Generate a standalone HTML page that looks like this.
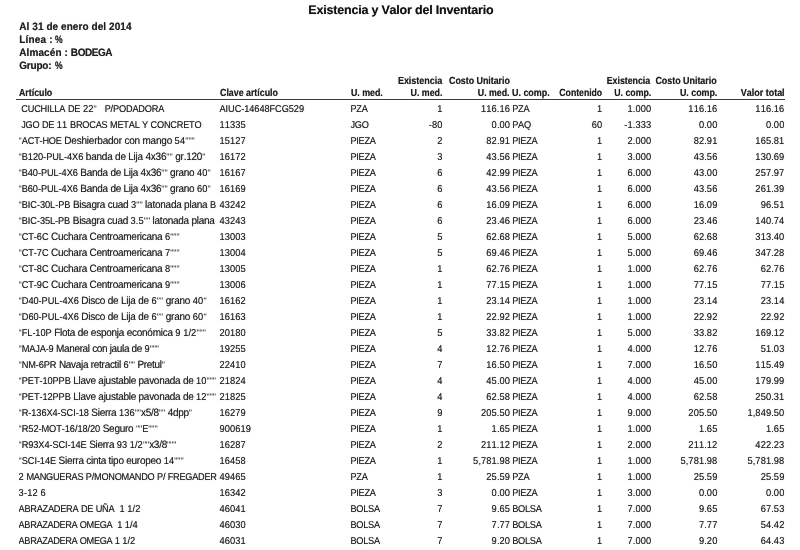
<!DOCTYPE html>
<html lang="es">
<head>
<meta charset="utf-8">
<title>Existencia y Valor del Inventario</title>
<style>
html,body{margin:0;padding:0;background:#fff;overflow:hidden;}
body{width:800px;height:550px;overflow:hidden;position:relative;font-family:"Liberation Sans",Arial,Helvetica,sans-serif;color:#1f1f1f;text-rendering:geometricPrecision;font-kerning:none;font-variant-ligatures:none;}
.t{position:absolute;white-space:pre;line-height:1;text-shadow:0 0 0.7px rgba(0,0,0,0.55);}
.b{font-weight:bold;}
.r{text-align:right;}
.h.r{transform-origin:100% 8.1px;}
#title{color:#111;font-size:12.5px;top:4px;left:0;width:801.8px;text-align:center;letter-spacing:-0.2px;word-spacing:0px;}
.sub{font-size:10px;left:19.28px;transform:scaleY(1.08);transform-origin:0 8.5px;}
.h{transform-origin:0 8.1px;font-size:9.6px;font-weight:bold;letter-spacing:-0.03px;word-spacing:0px;}
.d{transform:scaleY(1.07);transform-origin:0 11.5px;font-size:10px;line-height:16px;letter-spacing:calc(var(--a,0px) + -0.251px);}
.n{font-size:9.3px;letter-spacing:calc(var(--a,0px) + 0.1px);}
.q{font-size:9.0px;letter-spacing:calc(var(--a,0px) + -0.05px);color:#2a2a2a;text-shadow:none;}
.u{font-size:9.2px;letter-spacing:calc(var(--a,0px) + -0.249px);}
.x{font-size:9.25px;letter-spacing:calc(var(--a,0px) + -0.088px);}
.art{left:18.6px;width:199px;overflow:hidden;}
#rule{position:absolute;left:16px;width:768.5px;top:99px;height:1px;background:#3a3a3a;}
</style>
</head>
<body>
<div id="title" class="t b">Existencia y Valor del Inventario</div>
<div id="s1" class="t b sub" style="top:23px"><span id="s1l" style="letter-spacing:0.072px">Al 31 de enero del 2014</span></div>
<div id="s2" class="t b sub" style="top:36px"><span id="s2l" style="letter-spacing:0.2px">Línea : </span><span id="s2v" style="letter-spacing:0px;display:inline-block;transform:scaleX(0.86);transform-origin:0 50%;margin-left:-0.7px">%</span></div>
<div id="s3" class="t b sub" style="top:49px"><span id="s3l" style="letter-spacing:0.1px">Almacén : </span><span id="s3v" style="letter-spacing:-0.44px">BODEGA</span></div>
<div id="s4" class="t b sub" style="top:62px"><span id="s4l" style="letter-spacing:-0.2px">Grupo: </span><span id="s4v" style="letter-spacing:0px;display:inline-block;transform:scaleX(0.86);transform-origin:0 50%;margin-left:0.6px">%</span></div>
<div id="h_art" class="t h" style="left:18.84px;top:89px;transform:scale(0.9226,1.07)">Artículo</div>
<div id="h_clave" class="t h" style="left:219.55px;top:89px;transform:scale(0.9262,1.07)">Clave artículo</div>
<div id="h_umed" class="t h" style="left:350.84px;top:89px;transform:scale(0.9227,1.07)">U. med.</div>
<div id="h_ex1" class="t h r" style="right:358.08px;top:77px;transform:scale(0.9385,1.07)">Existencia</div>
<div id="h_ex2" class="t h r" style="right:357.85px;top:89px;transform:scale(0.9269,1.07)">U. med.</div>
<div id="h_cu1" class="t h" style="left:448.87px;top:77px;transform:scale(0.9266,1.07)">Costo Unitario</div>
<div id="h_cu2" class="t h r" style="right:290.72px;top:89px;transform:scale(0.917,1.07)">U. med.</div>
<div id="h_uc" class="t h" style="left:511.8px;top:89px;transform:scale(0.936,1.07)">U. comp.</div>
<div id="h_cont" class="t h r" style="right:198.11px;top:89px;transform:scale(0.9075,1.07)">Contenido</div>
<div id="h_exc1" class="t h r" style="right:150.26px;top:77px;transform:scale(0.9211,1.07)">Existencia</div>
<div id="h_exc2" class="t h r" style="right:148.82px;top:89px;transform:scale(0.9184,1.07)">U. comp.</div>
<div id="h_cuc1" class="t h r" style="right:83.76px;top:77px;transform:scale(0.9325,1.07)">Costo Unitario</div>
<div id="h_cuc2" class="t h r" style="right:83.11px;top:89px;transform:scale(0.9264,1.07)">U. comp.</div>
<div id="h_vt" class="t h r" style="right:15.54px;top:89px;transform:scale(0.9389,1.07)">Valor total</div>
<div id="rule"></div>
<div class="t d art" style="top:101px;--a:0.076px"> <span class="u">CUCHILLA</span> <span class="u">DE</span> <span class="n">22</span><span class="q">"</span>   <span class="u">P/PODADORA</span></div><div class="t d" style="left:219.5px;top:101px"><span class="x">AIUC-14648FCG529</span></div><div class="t d" style="left:350.4px;top:101px"><span class="u">PZA</span></div><div class="t d r" style="right:357.5px;top:101px"><span class="n">1</span></div><div class="t d r" style="right:289.9px;top:101px"><span class="n">116.16</span></div><div class="t d" style="left:512.2px;top:101px"><span class="u">PZA</span></div><div class="t d r" style="right:197.8px;top:101px"><span class="n">1</span></div><div class="t d r" style="right:148.7px;top:101px"><span class="n">1.000</span></div><div class="t d r" style="right:82.6px;top:101px"><span class="n">116.16</span></div><div class="t d r" style="right:15.6px;top:101px"><span class="n">116.16</span></div>
<div class="t d art" style="top:117px;--a:0.025px"> <span class="u">JGO</span> <span class="u">DE</span> <span class="n">11</span> <span class="u">BROCAS</span> <span class="u">METAL</span> <span class="u">Y</span> <span class="u">CONCRETO</span></div><div class="t d" style="left:219.5px;top:117px"><span class="n">11335</span></div><div class="t d" style="left:350.4px;top:117px"><span class="u">JGO</span></div><div class="t d r" style="right:357.5px;top:117px"><span class="n">-80</span></div><div class="t d r" style="right:289.9px;top:117px"><span class="n">0.00</span></div><div class="t d" style="left:512.2px;top:117px"><span class="u">PAQ</span></div><div class="t d r" style="right:197.8px;top:117px"><span class="n">60</span></div><div class="t d r" style="right:148.7px;top:117px"><span class="n">-1.333</span></div><div class="t d r" style="right:82.6px;top:117px"><span class="n">0.00</span></div><div class="t d r" style="right:15.6px;top:117px"><span class="n">0.00</span></div>
<div class="t d art" style="top:133px;--a:0.043px"><span class="q">"</span><span class="u">ACT-HOE</span> Deshierbador con mango <span class="n">54</span><span class="q">"""</span></div><div class="t d" style="left:219.5px;top:133px"><span class="n">15127</span></div><div class="t d" style="left:350.4px;top:133px"><span class="u">PIEZA</span></div><div class="t d r" style="right:357.5px;top:133px"><span class="n">2</span></div><div class="t d r" style="right:289.9px;top:133px"><span class="n">82.91</span></div><div class="t d" style="left:512.2px;top:133px"><span class="u">PIEZA</span></div><div class="t d r" style="right:197.8px;top:133px"><span class="n">1</span></div><div class="t d r" style="right:148.7px;top:133px"><span class="n">2.000</span></div><div class="t d r" style="right:82.6px;top:133px"><span class="n">82.91</span></div><div class="t d r" style="right:15.6px;top:133px"><span class="n">165.81</span></div>
<div class="t d art" style="top:149px;--a:0.027px"><span class="q">"</span><span class="x">B120-PUL-4X6</span> banda de Lija 4x36<span class="q">""</span> gr.120<span class="q">"</span></div><div class="t d" style="left:219.5px;top:149px"><span class="n">16172</span></div><div class="t d" style="left:350.4px;top:149px"><span class="u">PIEZA</span></div><div class="t d r" style="right:357.5px;top:149px"><span class="n">3</span></div><div class="t d r" style="right:289.9px;top:149px"><span class="n">43.56</span></div><div class="t d" style="left:512.2px;top:149px"><span class="u">PIEZA</span></div><div class="t d r" style="right:197.8px;top:149px"><span class="n">1</span></div><div class="t d r" style="right:148.7px;top:149px"><span class="n">3.000</span></div><div class="t d r" style="right:82.6px;top:149px"><span class="n">43.56</span></div><div class="t d r" style="right:15.6px;top:149px"><span class="n">130.69</span></div>
<div class="t d art" style="top:165px;--a:-0.007px"><span class="q">"</span><span class="x">B40-PUL-4X6</span> Banda de Lija 4x36<span class="q">""</span> grano <span class="n">40</span><span class="q">"</span></div><div class="t d" style="left:219.5px;top:165px"><span class="n">16167</span></div><div class="t d" style="left:350.4px;top:165px"><span class="u">PIEZA</span></div><div class="t d r" style="right:357.5px;top:165px"><span class="n">6</span></div><div class="t d r" style="right:289.9px;top:165px"><span class="n">42.99</span></div><div class="t d" style="left:512.2px;top:165px"><span class="u">PIEZA</span></div><div class="t d r" style="right:197.8px;top:165px"><span class="n">1</span></div><div class="t d r" style="right:148.7px;top:165px"><span class="n">6.000</span></div><div class="t d r" style="right:82.6px;top:165px"><span class="n">43.00</span></div><div class="t d r" style="right:15.6px;top:165px"><span class="n">257.97</span></div>
<div class="t d art" style="top:181px;--a:-0.007px"><span class="q">"</span><span class="x">B60-PUL-4X6</span> Banda de Lija 4x36<span class="q">""</span> grano <span class="n">60</span><span class="q">"</span></div><div class="t d" style="left:219.5px;top:181px"><span class="n">16169</span></div><div class="t d" style="left:350.4px;top:181px"><span class="u">PIEZA</span></div><div class="t d r" style="right:357.5px;top:181px"><span class="n">6</span></div><div class="t d r" style="right:289.9px;top:181px"><span class="n">43.56</span></div><div class="t d" style="left:512.2px;top:181px"><span class="u">PIEZA</span></div><div class="t d r" style="right:197.8px;top:181px"><span class="n">1</span></div><div class="t d r" style="right:148.7px;top:181px"><span class="n">6.000</span></div><div class="t d r" style="right:82.6px;top:181px"><span class="n">43.56</span></div><div class="t d r" style="right:15.6px;top:181px"><span class="n">261.39</span></div>
<div class="t d art" style="top:197px;--a:0.012px"><span class="q">"</span><span class="x">BIC-30L-PB</span> Bisagra cuad <span class="n">3</span><span class="q">""</span> latonada plana <span class="u">B</span></div><div class="t d" style="left:219.5px;top:197px"><span class="n">43242</span></div><div class="t d" style="left:350.4px;top:197px"><span class="u">PIEZA</span></div><div class="t d r" style="right:357.5px;top:197px"><span class="n">6</span></div><div class="t d r" style="right:289.9px;top:197px"><span class="n">16.09</span></div><div class="t d" style="left:512.2px;top:197px"><span class="u">PIEZA</span></div><div class="t d r" style="right:197.8px;top:197px"><span class="n">1</span></div><div class="t d r" style="right:148.7px;top:197px"><span class="n">6.000</span></div><div class="t d r" style="right:82.6px;top:197px"><span class="n">16.09</span></div><div class="t d r" style="right:15.6px;top:197px"><span class="n">96.51</span></div>
<div class="t d art" style="top:213px;--a:-0.004px"><span class="q">"</span><span class="x">BIC-35L-PB</span> Bisagra cuad <span class="n">3.5</span><span class="q">""</span> latonada plana </div><div class="t d" style="left:219.5px;top:213px"><span class="n">43243</span></div><div class="t d" style="left:350.4px;top:213px"><span class="u">PIEZA</span></div><div class="t d r" style="right:357.5px;top:213px"><span class="n">6</span></div><div class="t d r" style="right:289.9px;top:213px"><span class="n">23.46</span></div><div class="t d" style="left:512.2px;top:213px"><span class="u">PIEZA</span></div><div class="t d r" style="right:197.8px;top:213px"><span class="n">1</span></div><div class="t d r" style="right:148.7px;top:213px"><span class="n">6.000</span></div><div class="t d r" style="right:82.6px;top:213px"><span class="n">23.46</span></div><div class="t d r" style="right:15.6px;top:213px"><span class="n">140.74</span></div>
<div class="t d art" style="top:229px;--a:-0.008px"><span class="q">"</span><span class="x">CT-6C</span> Cuchara Centroamericana <span class="n">6</span><span class="q">"""</span></div><div class="t d" style="left:219.5px;top:229px"><span class="n">13003</span></div><div class="t d" style="left:350.4px;top:229px"><span class="u">PIEZA</span></div><div class="t d r" style="right:357.5px;top:229px"><span class="n">5</span></div><div class="t d r" style="right:289.9px;top:229px"><span class="n">62.68</span></div><div class="t d" style="left:512.2px;top:229px"><span class="u">PIEZA</span></div><div class="t d r" style="right:197.8px;top:229px"><span class="n">1</span></div><div class="t d r" style="right:148.7px;top:229px"><span class="n">5.000</span></div><div class="t d r" style="right:82.6px;top:229px"><span class="n">62.68</span></div><div class="t d r" style="right:15.6px;top:229px"><span class="n">313.40</span></div>
<div class="t d art" style="top:245px;--a:-0.008px"><span class="q">"</span><span class="x">CT-7C</span> Cuchara Centroamericana <span class="n">7</span><span class="q">"""</span></div><div class="t d" style="left:219.5px;top:245px"><span class="n">13004</span></div><div class="t d" style="left:350.4px;top:245px"><span class="u">PIEZA</span></div><div class="t d r" style="right:357.5px;top:245px"><span class="n">5</span></div><div class="t d r" style="right:289.9px;top:245px"><span class="n">69.46</span></div><div class="t d" style="left:512.2px;top:245px"><span class="u">PIEZA</span></div><div class="t d r" style="right:197.8px;top:245px"><span class="n">1</span></div><div class="t d r" style="right:148.7px;top:245px"><span class="n">5.000</span></div><div class="t d r" style="right:82.6px;top:245px"><span class="n">69.46</span></div><div class="t d r" style="right:15.6px;top:245px"><span class="n">347.28</span></div>
<div class="t d art" style="top:261px;--a:-0.008px"><span class="q">"</span><span class="x">CT-8C</span> Cuchara Centroamericana <span class="n">8</span><span class="q">"""</span></div><div class="t d" style="left:219.5px;top:261px"><span class="n">13005</span></div><div class="t d" style="left:350.4px;top:261px"><span class="u">PIEZA</span></div><div class="t d r" style="right:357.5px;top:261px"><span class="n">1</span></div><div class="t d r" style="right:289.9px;top:261px"><span class="n">62.76</span></div><div class="t d" style="left:512.2px;top:261px"><span class="u">PIEZA</span></div><div class="t d r" style="right:197.8px;top:261px"><span class="n">1</span></div><div class="t d r" style="right:148.7px;top:261px"><span class="n">1.000</span></div><div class="t d r" style="right:82.6px;top:261px"><span class="n">62.76</span></div><div class="t d r" style="right:15.6px;top:261px"><span class="n">62.76</span></div>
<div class="t d art" style="top:277px;--a:-0.008px"><span class="q">"</span><span class="x">CT-9C</span> Cuchara Centroamericana <span class="n">9</span><span class="q">"""</span></div><div class="t d" style="left:219.5px;top:277px"><span class="n">13006</span></div><div class="t d" style="left:350.4px;top:277px"><span class="u">PIEZA</span></div><div class="t d r" style="right:357.5px;top:277px"><span class="n">1</span></div><div class="t d r" style="right:289.9px;top:277px"><span class="n">77.15</span></div><div class="t d" style="left:512.2px;top:277px"><span class="u">PIEZA</span></div><div class="t d r" style="right:197.8px;top:277px"><span class="n">1</span></div><div class="t d r" style="right:148.7px;top:277px"><span class="n">1.000</span></div><div class="t d r" style="right:82.6px;top:277px"><span class="n">77.15</span></div><div class="t d r" style="right:15.6px;top:277px"><span class="n">77.15</span></div>
<div class="t d art" style="top:293px;--a:0.031px"><span class="q">"</span><span class="x">D40-PUL-4X6</span> Disco de Lija de <span class="n">6</span><span class="q">""</span> grano <span class="n">40</span><span class="q">"</span></div><div class="t d" style="left:219.5px;top:293px"><span class="n">16162</span></div><div class="t d" style="left:350.4px;top:293px"><span class="u">PIEZA</span></div><div class="t d r" style="right:357.5px;top:293px"><span class="n">1</span></div><div class="t d r" style="right:289.9px;top:293px"><span class="n">23.14</span></div><div class="t d" style="left:512.2px;top:293px"><span class="u">PIEZA</span></div><div class="t d r" style="right:197.8px;top:293px"><span class="n">1</span></div><div class="t d r" style="right:148.7px;top:293px"><span class="n">1.000</span></div><div class="t d r" style="right:82.6px;top:293px"><span class="n">23.14</span></div><div class="t d r" style="right:15.6px;top:293px"><span class="n">23.14</span></div>
<div class="t d art" style="top:309px;--a:0.031px"><span class="q">"</span><span class="x">D60-PUL-4X6</span> Disco de Lija de <span class="n">6</span><span class="q">""</span> grano <span class="n">60</span><span class="q">"</span></div><div class="t d" style="left:219.5px;top:309px"><span class="n">16163</span></div><div class="t d" style="left:350.4px;top:309px"><span class="u">PIEZA</span></div><div class="t d r" style="right:357.5px;top:309px"><span class="n">1</span></div><div class="t d r" style="right:289.9px;top:309px"><span class="n">22.92</span></div><div class="t d" style="left:512.2px;top:309px"><span class="u">PIEZA</span></div><div class="t d r" style="right:197.8px;top:309px"><span class="n">1</span></div><div class="t d r" style="right:148.7px;top:309px"><span class="n">1.000</span></div><div class="t d r" style="right:82.6px;top:309px"><span class="n">22.92</span></div><div class="t d r" style="right:15.6px;top:309px"><span class="n">22.92</span></div>
<div class="t d art" style="top:325px;--a:0.004px"><span class="q">"</span><span class="x">FL-10P</span> Flota de esponja económica <span class="n">9</span> <span class="n">1/2</span><span class="q">"""</span></div><div class="t d" style="left:219.5px;top:325px"><span class="n">20180</span></div><div class="t d" style="left:350.4px;top:325px"><span class="u">PIEZA</span></div><div class="t d r" style="right:357.5px;top:325px"><span class="n">5</span></div><div class="t d r" style="right:289.9px;top:325px"><span class="n">33.82</span></div><div class="t d" style="left:512.2px;top:325px"><span class="u">PIEZA</span></div><div class="t d r" style="right:197.8px;top:325px"><span class="n">1</span></div><div class="t d r" style="right:148.7px;top:325px"><span class="n">5.000</span></div><div class="t d r" style="right:82.6px;top:325px"><span class="n">33.82</span></div><div class="t d r" style="right:15.6px;top:325px"><span class="n">169.12</span></div>
<div class="t d art" style="top:341px;--a:-0.085px"><span class="q">"</span><span class="x">MAJA-9</span> Maneral con jaula de <span class="n">9</span><span class="q">"""</span></div><div class="t d" style="left:219.5px;top:341px"><span class="n">19255</span></div><div class="t d" style="left:350.4px;top:341px"><span class="u">PIEZA</span></div><div class="t d r" style="right:357.5px;top:341px"><span class="n">4</span></div><div class="t d r" style="right:289.9px;top:341px"><span class="n">12.76</span></div><div class="t d" style="left:512.2px;top:341px"><span class="u">PIEZA</span></div><div class="t d r" style="right:197.8px;top:341px"><span class="n">1</span></div><div class="t d r" style="right:148.7px;top:341px"><span class="n">4.000</span></div><div class="t d r" style="right:82.6px;top:341px"><span class="n">12.76</span></div><div class="t d r" style="right:15.6px;top:341px"><span class="n">51.03</span></div>
<div class="t d art" style="top:357px;--a:-0.038px"><span class="q">"</span><span class="x">NM-6PR</span> Navaja retractil <span class="n">6</span><span class="q">""</span> Pretul<span class="q">"</span></div><div class="t d" style="left:219.5px;top:357px"><span class="n">22410</span></div><div class="t d" style="left:350.4px;top:357px"><span class="u">PIEZA</span></div><div class="t d r" style="right:357.5px;top:357px"><span class="n">7</span></div><div class="t d r" style="right:289.9px;top:357px"><span class="n">16.50</span></div><div class="t d" style="left:512.2px;top:357px"><span class="u">PIEZA</span></div><div class="t d r" style="right:197.8px;top:357px"><span class="n">1</span></div><div class="t d r" style="right:148.7px;top:357px"><span class="n">7.000</span></div><div class="t d r" style="right:82.6px;top:357px"><span class="n">16.50</span></div><div class="t d r" style="right:15.6px;top:357px"><span class="n">115.49</span></div>
<div class="t d art" style="top:373px;--a:-0.011px"><span class="q">"</span><span class="x">PET-10PPB</span> Llave ajustable pavonada de <span class="n">10</span><span class="q">"""</span></div><div class="t d" style="left:219.5px;top:373px"><span class="n">21824</span></div><div class="t d" style="left:350.4px;top:373px"><span class="u">PIEZA</span></div><div class="t d r" style="right:357.5px;top:373px"><span class="n">4</span></div><div class="t d r" style="right:289.9px;top:373px"><span class="n">45.00</span></div><div class="t d" style="left:512.2px;top:373px"><span class="u">PIEZA</span></div><div class="t d r" style="right:197.8px;top:373px"><span class="n">1</span></div><div class="t d r" style="right:148.7px;top:373px"><span class="n">4.000</span></div><div class="t d r" style="right:82.6px;top:373px"><span class="n">45.00</span></div><div class="t d r" style="right:15.6px;top:373px"><span class="n">179.99</span></div>
<div class="t d art" style="top:389px;--a:-0.011px"><span class="q">"</span><span class="x">PET-12PPB</span> Llave ajustable pavonada de <span class="n">12</span><span class="q">"""</span></div><div class="t d" style="left:219.5px;top:389px"><span class="n">21825</span></div><div class="t d" style="left:350.4px;top:389px"><span class="u">PIEZA</span></div><div class="t d r" style="right:357.5px;top:389px"><span class="n">4</span></div><div class="t d r" style="right:289.9px;top:389px"><span class="n">62.58</span></div><div class="t d" style="left:512.2px;top:389px"><span class="u">PIEZA</span></div><div class="t d r" style="right:197.8px;top:389px"><span class="n">1</span></div><div class="t d r" style="right:148.7px;top:389px"><span class="n">4.000</span></div><div class="t d r" style="right:82.6px;top:389px"><span class="n">62.58</span></div><div class="t d r" style="right:15.6px;top:389px"><span class="n">250.31</span></div>
<div class="t d art" style="top:405px;--a:-0.01px"><span class="q">"</span><span class="x">R-136X4-SCI-18</span> Sierra <span class="n">136</span><span class="q">""</span>x5/8<span class="q">""</span> 4dpp<span class="q">"</span></div><div class="t d" style="left:219.5px;top:405px"><span class="n">16279</span></div><div class="t d" style="left:350.4px;top:405px"><span class="u">PIEZA</span></div><div class="t d r" style="right:357.5px;top:405px"><span class="n">9</span></div><div class="t d r" style="right:289.9px;top:405px"><span class="n">205.50</span></div><div class="t d" style="left:512.2px;top:405px"><span class="u">PIEZA</span></div><div class="t d r" style="right:197.8px;top:405px"><span class="n">1</span></div><div class="t d r" style="right:148.7px;top:405px"><span class="n">9.000</span></div><div class="t d r" style="right:82.6px;top:405px"><span class="n">205.50</span></div><div class="t d r" style="right:15.6px;top:405px"><span class="n">1,849.50</span></div>
<div class="t d art" style="top:421px;--a:0.005px"><span class="q">"</span><span class="x">R52-MOT-16/18/20</span> Seguro <span class="q">""</span><span class="u">E</span><span class="q">"""</span></div><div class="t d" style="left:219.5px;top:421px"><span class="n">900619</span></div><div class="t d" style="left:350.4px;top:421px"><span class="u">PIEZA</span></div><div class="t d r" style="right:357.5px;top:421px"><span class="n">1</span></div><div class="t d r" style="right:289.9px;top:421px"><span class="n">1.65</span></div><div class="t d" style="left:512.2px;top:421px"><span class="u">PIEZA</span></div><div class="t d r" style="right:197.8px;top:421px"><span class="n">1</span></div><div class="t d r" style="right:148.7px;top:421px"><span class="n">1.000</span></div><div class="t d r" style="right:82.6px;top:421px"><span class="n">1.65</span></div><div class="t d r" style="right:15.6px;top:421px"><span class="n">1.65</span></div>
<div class="t d art" style="top:437px;--a:-0.022px"><span class="q">"</span><span class="x">R93X4-SCI-14E</span> Sierra <span class="n">93</span> <span class="n">1/2</span><span class="q">""</span>x3/8<span class="q">"""</span></div><div class="t d" style="left:219.5px;top:437px"><span class="n">16287</span></div><div class="t d" style="left:350.4px;top:437px"><span class="u">PIEZA</span></div><div class="t d r" style="right:357.5px;top:437px"><span class="n">2</span></div><div class="t d r" style="right:289.9px;top:437px"><span class="n">211.12</span></div><div class="t d" style="left:512.2px;top:437px"><span class="u">PIEZA</span></div><div class="t d r" style="right:197.8px;top:437px"><span class="n">1</span></div><div class="t d r" style="right:148.7px;top:437px"><span class="n">2.000</span></div><div class="t d r" style="right:82.6px;top:437px"><span class="n">211.12</span></div><div class="t d r" style="right:15.6px;top:437px"><span class="n">422.23</span></div>
<div class="t d art" style="top:453px;--a:-0.005px"><span class="q">"</span><span class="x">SCI-14E</span> Sierra cinta tipo europeo <span class="n">14</span><span class="q">"""</span></div><div class="t d" style="left:219.5px;top:453px"><span class="n">16458</span></div><div class="t d" style="left:350.4px;top:453px"><span class="u">PIEZA</span></div><div class="t d r" style="right:357.5px;top:453px"><span class="n">1</span></div><div class="t d r" style="right:289.9px;top:453px"><span class="n">5,781.98</span></div><div class="t d" style="left:512.2px;top:453px"><span class="u">PIEZA</span></div><div class="t d r" style="right:197.8px;top:453px"><span class="n">1</span></div><div class="t d r" style="right:148.7px;top:453px"><span class="n">1.000</span></div><div class="t d r" style="right:82.6px;top:453px"><span class="n">5,781.98</span></div><div class="t d r" style="right:15.6px;top:453px"><span class="n">5,781.98</span></div>
<div class="t d art" style="top:469px;--a:-0.007px"><span class="n">2</span> <span class="u">MANGUERAS</span> <span class="u">P/MONOMANDO</span> <span class="u">P/</span> <span class="u">FREGADER</span></div><div class="t d" style="left:219.5px;top:469px"><span class="n">49465</span></div><div class="t d" style="left:350.4px;top:469px"><span class="u">PZA</span></div><div class="t d r" style="right:357.5px;top:469px"><span class="n">1</span></div><div class="t d r" style="right:289.9px;top:469px"><span class="n">25.59</span></div><div class="t d" style="left:512.2px;top:469px"><span class="u">PZA</span></div><div class="t d r" style="right:197.8px;top:469px"><span class="n">1</span></div><div class="t d r" style="right:148.7px;top:469px"><span class="n">1.000</span></div><div class="t d r" style="right:82.6px;top:469px"><span class="n">25.59</span></div><div class="t d r" style="right:15.6px;top:469px"><span class="n">25.59</span></div>
<div class="t d art" style="top:485px;--a:0.066px"><span class="n">3-12</span> <span class="n">6</span></div><div class="t d" style="left:219.5px;top:485px"><span class="n">16342</span></div><div class="t d" style="left:350.4px;top:485px"><span class="u">PIEZA</span></div><div class="t d r" style="right:357.5px;top:485px"><span class="n">3</span></div><div class="t d r" style="right:289.9px;top:485px"><span class="n">0.00</span></div><div class="t d" style="left:512.2px;top:485px"><span class="u">PIEZA</span></div><div class="t d r" style="right:197.8px;top:485px"><span class="n">1</span></div><div class="t d r" style="right:148.7px;top:485px"><span class="n">3.000</span></div><div class="t d r" style="right:82.6px;top:485px"><span class="n">0.00</span></div><div class="t d r" style="right:15.6px;top:485px"><span class="n">0.00</span></div>
<div class="t d art" style="top:501px;--a:-0.003px"><span class="u">ABRAZADERA</span> <span class="u">DE</span> <span class="u">UÑA</span>  <span class="n">1</span> <span class="n">1/2</span></div><div class="t d" style="left:219.5px;top:501px"><span class="n">46041</span></div><div class="t d" style="left:350.4px;top:501px"><span class="u">BOLSA</span></div><div class="t d r" style="right:357.5px;top:501px"><span class="n">7</span></div><div class="t d r" style="right:289.9px;top:501px"><span class="n">9.65</span></div><div class="t d" style="left:512.2px;top:501px"><span class="u">BOLSA</span></div><div class="t d r" style="right:197.8px;top:501px"><span class="n">1</span></div><div class="t d r" style="right:148.7px;top:501px"><span class="n">7.000</span></div><div class="t d r" style="right:82.6px;top:501px"><span class="n">9.65</span></div><div class="t d r" style="right:15.6px;top:501px"><span class="n">67.53</span></div>
<div class="t d art" style="top:517px;--a:-0.101px"><span class="u">ABRAZADERA</span> <span class="u">OMEGA</span>  <span class="n">1</span> <span class="n">1/4</span></div><div class="t d" style="left:219.5px;top:517px"><span class="n">46030</span></div><div class="t d" style="left:350.4px;top:517px"><span class="u">BOLSA</span></div><div class="t d r" style="right:357.5px;top:517px"><span class="n">7</span></div><div class="t d r" style="right:289.9px;top:517px"><span class="n">7.77</span></div><div class="t d" style="left:512.2px;top:517px"><span class="u">BOLSA</span></div><div class="t d r" style="right:197.8px;top:517px"><span class="n">1</span></div><div class="t d r" style="right:148.7px;top:517px"><span class="n">7.000</span></div><div class="t d r" style="right:82.6px;top:517px"><span class="n">7.77</span></div><div class="t d r" style="right:15.6px;top:517px"><span class="n">54.42</span></div>
<div class="t d art" style="top:533px;--a:-0.101px"><span class="u">ABRAZADERA</span> <span class="u">OMEGA</span> <span class="n">1</span> <span class="n">1/2</span></div><div class="t d" style="left:219.5px;top:533px"><span class="n">46031</span></div><div class="t d" style="left:350.4px;top:533px"><span class="u">BOLSA</span></div><div class="t d r" style="right:357.5px;top:533px"><span class="n">7</span></div><div class="t d r" style="right:289.9px;top:533px"><span class="n">9.20</span></div><div class="t d" style="left:512.2px;top:533px"><span class="u">BOLSA</span></div><div class="t d r" style="right:197.8px;top:533px"><span class="n">1</span></div><div class="t d r" style="right:148.7px;top:533px"><span class="n">7.000</span></div><div class="t d r" style="right:82.6px;top:533px"><span class="n">9.20</span></div><div class="t d r" style="right:15.6px;top:533px"><span class="n">64.43</span></div>
</body>
</html>
